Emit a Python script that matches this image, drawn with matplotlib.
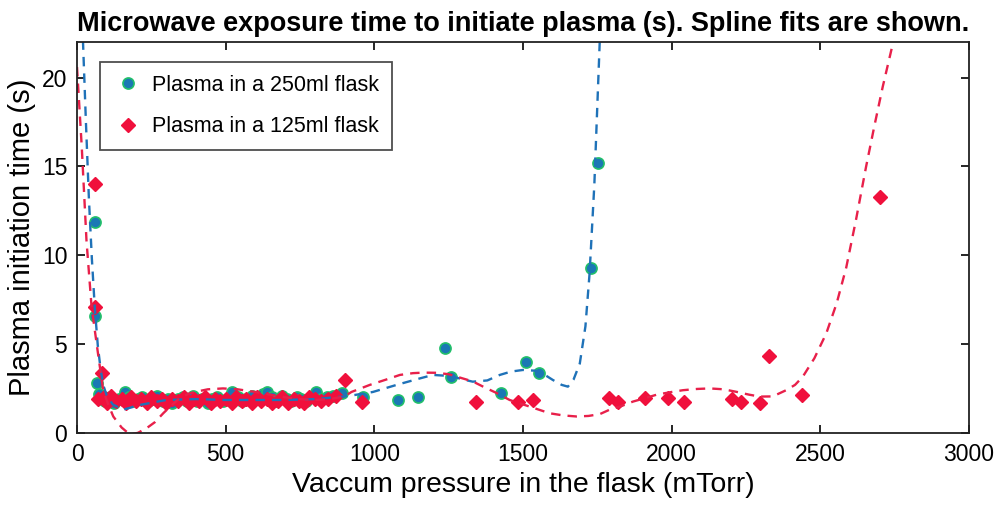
import matplotlib
matplotlib.use("Agg")
import matplotlib.pyplot as plt

plt.rcParams["font.family"] = ["Liberation Sans", "DejaVu Sans"]

BLUE_FACE = "#1A78B4"
BLUE_EDGE = "#22C06A"
BLUE_LINE = "#1F72B8"
RED = "#F0103C"
RED_LINE = "#E8204A"

# Plasma in a 250 ml flask (pressure mTorr, time s)
p250 = [60, 60, 67, 75, 85, 95, 110, 125, 140, 160, 175, 190, 205, 220, 240, 255,
        270, 290, 305, 320, 340, 355, 370, 390, 405, 420, 440, 455, 470, 490, 505,
        520, 540, 555, 570, 590, 610, 625, 640, 655, 670, 690, 705, 720, 740, 755,
        770, 790, 805, 820, 840, 860, 890, 961, 1080, 1146, 1237, 1259, 1427, 1511,
        1553, 1730, 1751]
t250 = [11.85, 6.6, 2.8, 2.2, 1.9, 1.8, 2.0, 1.7, 1.9, 2.3, 2.0, 1.8, 1.9, 2.0, 1.8, 1.9,
        2.1, 1.8, 1.9, 1.7, 1.9, 2.0, 1.8, 2.1, 1.8, 1.9, 1.7, 1.9, 2.0, 1.8, 1.9,
        2.3, 2.0, 1.8, 1.9, 2.1, 1.9, 2.2, 2.3, 2.0, 1.8, 2.1, 1.9, 1.8, 2.0, 1.9,
        1.8, 2.0, 2.3, 1.9, 2.0, 2.1, 2.23, 2.0, 1.85, 2.04, 4.78, 3.13, 2.23, 4.0,
        3.39, 9.27, 15.2]

# Plasma in a 125 ml flask
p125 = [60, 60, 70, 84, 90, 100, 115, 130, 150, 165, 180, 200, 215, 235, 250, 270,
        285, 300, 320, 340, 360, 375, 395, 410, 430, 450, 465, 480, 500, 520, 535,
        555, 570, 590, 605, 620, 640, 655, 675, 690, 710, 730, 745, 765, 780, 800,
        820, 845, 870, 901, 960, 1343, 1483, 1534, 1789, 1820, 1909, 1988, 2040,
        2204, 2234, 2298, 2329, 2437, 2701]
t125 = [14.0, 7.1, 1.9, 3.37, 2.0, 1.7, 2.1, 1.8, 1.9, 1.7, 2.0, 1.8, 1.9, 1.7, 2.0, 1.8,
        1.9, 1.7, 1.9, 1.8, 2.0, 1.7, 1.9, 1.8, 2.0, 1.7, 1.9, 1.8, 1.9, 1.7, 2.0,
        1.8, 1.9, 1.7, 2.0, 1.8, 1.9, 1.7, 1.8, 2.0, 1.7, 1.9, 1.8, 1.7, 2.0, 1.9,
        1.8, 1.9, 2.1, 2.98, 1.76, 1.76, 1.76, 1.85, 1.95, 1.76, 1.95, 1.95, 1.76,
        1.89, 1.76, 1.67, 4.33, 2.13, 13.3]

# spline fits, sampled off the figure
fit250_x = [20, 30, 40, 50, 60, 70, 80, 90, 100, 120, 155, 212, 300, 400, 500, 600,
            700, 800, 900, 934, 995, 1075, 1150, 1197, 1255, 1300, 1331, 1380, 1422,
            1460, 1500, 1540, 1570, 1600, 1630, 1651, 1670, 1691, 1710, 1724, 1740, 1758]
fit250_y = [22.1, 17.5, 13.2, 9.8, 7.0, 4.9, 3.5, 2.6, 2.1, 1.6, 1.3, 1.57, 1.85, 1.9,
            1.85, 1.85, 1.85, 1.9, 2.05, 2.13, 2.3, 2.7, 3.05, 3.26, 3.2, 3.0, 2.88, 2.95,
            3.26, 3.45, 3.54, 3.5, 3.3, 2.98, 2.7, 2.6, 3.0, 3.9, 6.0, 9.0, 14.0, 22.0]

fit125_x = [0, 16, 32, 49, 72, 88, 105, 122, 150, 178, 205, 234, 262, 290, 318, 346,
            375, 402, 440, 491, 540, 600, 650, 700, 750, 800, 850, 900, 923, 985, 1040,
            1086, 1130, 1164, 1210, 1250, 1290, 1330, 1366, 1410, 1455, 1500, 1545,
            1590, 1635, 1680, 1720, 1758, 1791, 1830, 1870, 1910, 1950, 2000, 2038,
            2085, 2128, 2175, 2220, 2260, 2296, 2340, 2385, 2415, 2441, 2480, 2520,
            2555, 2587, 2620, 2654, 2682, 2710, 2745]
fit125_y = [20.6, 16.1, 10.8, 7.1, 4.3, 2.4, 1.6, 0.92, 0.3, -0.1, 0.0, 0.26, 0.6, 1.1,
            1.55, 1.96, 2.2, 2.32, 2.45, 2.5, 2.45, 2.3, 2.15, 2.0, 1.9, 1.85, 1.9, 2.05,
            2.3, 2.7, 3.0, 3.26, 3.36, 3.39, 3.38, 3.3, 3.1, 2.9, 2.6, 2.25, 1.85, 1.6,
            1.35, 1.1, 0.98, 0.92, 0.95, 1.05, 1.3, 1.5, 1.76, 1.95, 2.15, 2.3, 2.4,
            2.47, 2.5, 2.45, 2.3, 2.15, 2.04, 2.05, 2.4, 2.7, 3.16, 4.2, 5.6, 7.3, 9.3,
            12.0, 15.0, 17.3, 19.5, 22.0]

fig = plt.figure(figsize=(10, 5.08), dpi=100)
ax = fig.add_axes([0.077, 0.148, 0.892, 0.769])

ax.plot(p250, t250, "o", ms=8, mfc=BLUE_FACE, mec=BLUE_EDGE, mew=1.2,
        label="Plasma in a 250ml flask")
ax.plot(p125, t125, "D", ms=7.5, mfc=RED, mec=RED, mew=1.0,
        label="Plasma in a 125ml flask")
ax.plot(fit250_x, fit250_y, "--", color=BLUE_LINE, lw=1.7, dashes=(4, 3))
ax.plot(fit125_x, fit125_y, "--", color=RED_LINE, lw=1.7, dashes=(4, 3))

ax.set_xlim(0, 3000)
ax.set_ylim(0, 22)
ax.set_xticks(range(0, 3001, 500))
ax.set_yticks(range(0, 21, 5))
ax.tick_params(direction="in", top=True, right=True, labelsize=16.5, length=6,
               width=1.2, pad=7)
for s in ax.spines.values():
    s.set_linewidth(1.3)
    s.set_color("#222222")

ax.set_xlabel("Vaccum pressure in the flask (mTorr)", fontsize=20.5, labelpad=5)
ax.set_ylabel("Plasma initiation time (s)", fontsize=21, labelpad=4)
ax.set_title("Microwave exposure time to initiate plasma (s). Spline fits are shown.",
             fontsize=19.5, fontweight="bold", pad=8)

leg = ax.legend(loc="upper left", bbox_to_anchor=(0.026, 0.95), fontsize=15.5,
                frameon=True, fancybox=False, edgecolor="#222222",
                borderpad=0.6, labelspacing=0.95, handlelength=1.4,
                handletextpad=0.4, borderaxespad=0)
leg.get_frame().set_linewidth(1.3)

fig.savefig("out.png", dpi=100)
